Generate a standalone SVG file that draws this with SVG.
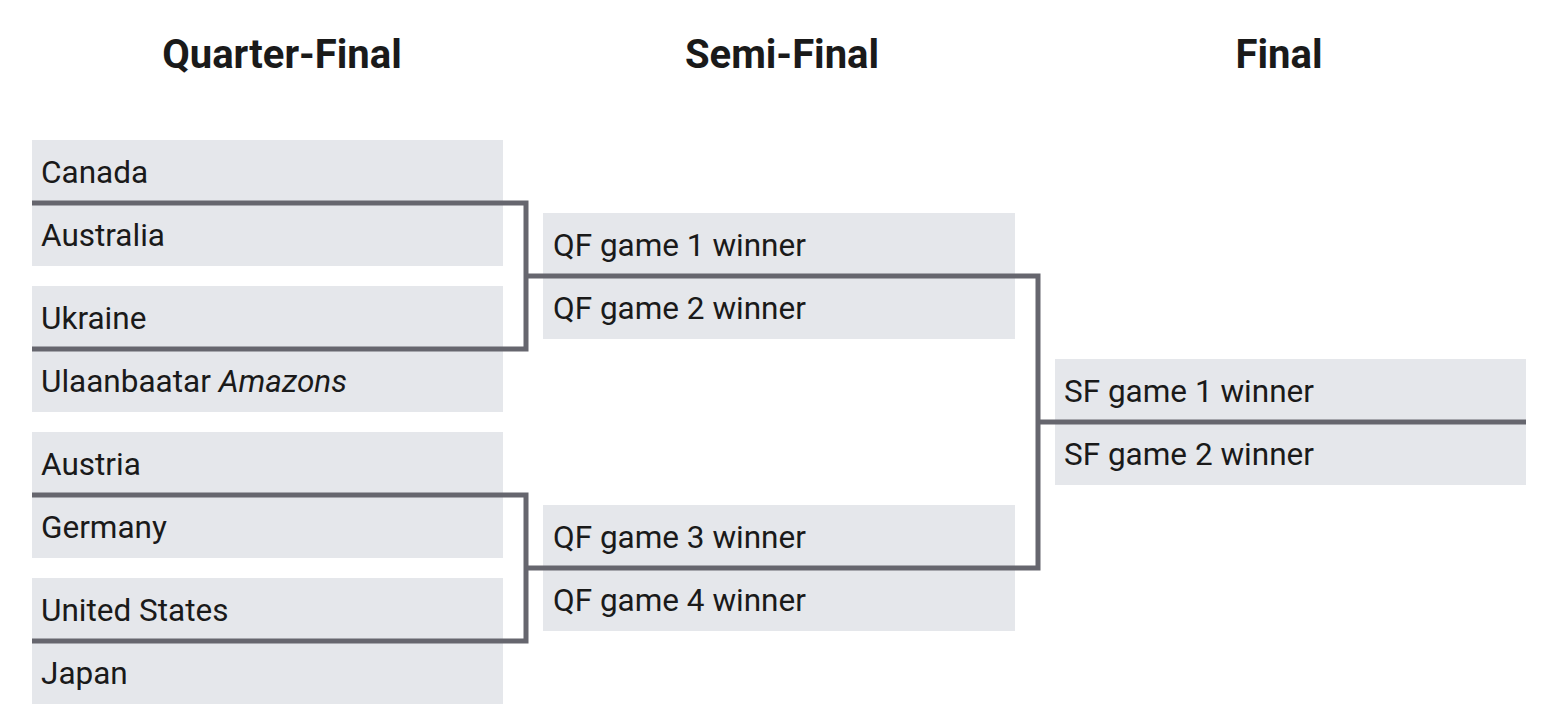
<svg xmlns="http://www.w3.org/2000/svg" width="1552" height="726" viewBox="0 0 1552 726">
<style>
.hdr{font-family:Roboto,"Liberation Sans",sans-serif;font-weight:700;font-size:40px;fill:#1a1a1a;text-anchor:middle}
.box{fill:#e5e7eb}
.lbl{font-family:Roboto,"Liberation Sans",sans-serif;font-size:31.5px;fill:#1a1a1a}
.con{fill:none;stroke:#66666e;stroke-width:5;stroke-linejoin:miter;stroke-linecap:butt}
</style>
<rect width="1552" height="726" fill="#ffffff"/>
<g id="headers">
<text class="hdr" x="282" y="68">Quarter-Final</text>
<text class="hdr" x="782" y="68">Semi-Final</text>
<text class="hdr" x="1279" y="68">Final</text>
</g>
<g id="qf-canada"><rect class="box" x="32" y="140" width="471" height="63"/><text class="lbl" x="41" y="183">Canada</text></g>
<g id="qf-australia"><rect class="box" x="32" y="203" width="471" height="63"/><text class="lbl" x="41" y="246">Australia</text></g>
<g id="qf-ukraine"><rect class="box" x="32" y="286" width="471" height="63"/><text class="lbl" x="41" y="329">Ukraine</text></g>
<g id="qf-ulaanbaatar"><rect class="box" x="32" y="349" width="471" height="63"/><text class="lbl" x="41" y="392">Ulaanbaatar <tspan font-style="italic">Amazons</tspan></text></g>
<g id="qf-austria"><rect class="box" x="32" y="432" width="471" height="63"/><text class="lbl" x="41" y="475">Austria</text></g>
<g id="qf-germany"><rect class="box" x="32" y="495" width="471" height="63"/><text class="lbl" x="41" y="538">Germany</text></g>
<g id="qf-usa"><rect class="box" x="32" y="578" width="471" height="63"/><text class="lbl" x="41" y="621">United States</text></g>
<g id="qf-japan"><rect class="box" x="32" y="641" width="471" height="63"/><text class="lbl" x="41" y="684">Japan</text></g>
<g id="sf-qf1"><rect class="box" x="543" y="213" width="472" height="63"/><text class="lbl" x="553" y="256">QF game 1 winner</text></g>
<g id="sf-qf2"><rect class="box" x="543" y="276" width="472" height="63"/><text class="lbl" x="553" y="319">QF game 2 winner</text></g>
<g id="sf-qf3"><rect class="box" x="543" y="505" width="472" height="63"/><text class="lbl" x="553" y="548">QF game 3 winner</text></g>
<g id="sf-qf4"><rect class="box" x="543" y="568" width="472" height="63"/><text class="lbl" x="553" y="611">QF game 4 winner</text></g>
<g id="f-sf1"><rect class="box" x="1055" y="359" width="471" height="63"/><text class="lbl" x="1064" y="402">SF game 1 winner</text></g>
<g id="f-sf2"><rect class="box" x="1055" y="422" width="471" height="63"/><text class="lbl" x="1064" y="465">SF game 2 winner</text></g>
<g id="connectors">
<path class="con" d="M32 203 H526 V349 H32"/>
<path class="con" d="M32 495 H526 V641 H32"/>
<path class="con" d="M526 276 H1038 V568 H526"/>
<path class="con" d="M1038 422 H1526"/>
</g>
</svg>
